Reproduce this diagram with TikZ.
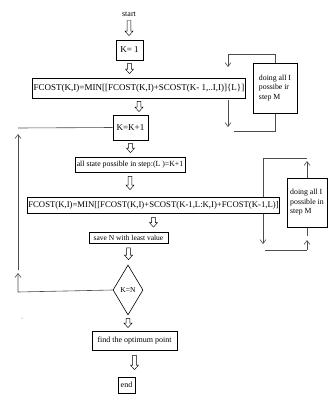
\documentclass[tikz,border=0pt]{standalone}
\usepackage{fontspec}
\setmainfont{Liberation Serif}
\usetikzlibrary{shapes.geometric,arrows.meta,calc,backgrounds}
\begin{document}
\begin{tikzpicture}[x=1pt,y=-1pt,
  box/.style={draw, fill=white, line width=0.7pt, inner sep=1pt, font=\fontsize{8.5}{9}\selectfont, anchor=center},
  sbox/.style={box, font=\fontsize{7.8}{9.5}\selectfont, align=left},
  hol/.style={line width=0.45pt, to path={let \p1=(\tikztostart), \p2=(\tikztotarget) in
     (\x1-1.8pt,\y1) -- (\x1+1.8pt,\y1) -- (\x1+1.8pt,\y2+4.5pt) -- (\x1+4pt,\y2+4.5pt) -- (\x1,\y2)
     -- (\x1-4pt,\y2+4.5pt) -- (\x1-1.8pt,\y2+4.5pt) -- cycle}},
  lp/.style={draw=black!70, line width=0.6pt},
  vt/.style={-{Straight Barb[length=4pt,width=6pt]}}
]
\useasboundingbox (0,0) rectangle (327,394);
\node[font=\fontsize{8}{9}\selectfont, inner sep=1pt] (st) at (129,14) {start};
\node[box, minimum width=27pt, minimum height=20pt, font=\fontsize{9}{10}\selectfont] (k1) at (129.5,50) {K= 1};
\node[box, minimum width=211pt, minimum height=20pt, font=\fontsize{9}{10}\selectfont] (f1) at (139,88) {FCOST(K,I)=MIN[[FCOST(K,I)+SCOST(K- 1,..I,I)]\{L\}]};
\node[box, minimum width=35pt, minimum height=25pt, font=\fontsize{9}{10}\selectfont] (kk) at (130.5,127.5) {K=K+1};
\node[box, minimum width=110pt, minimum height=15pt, font=\fontsize{7.8}{9}\selectfont] (al) at (130,164.5) {all state possible in step:(L )=K+1};
\node[box, minimum width=249pt, minimum height=16pt, font=\fontsize{8.7}{9.5}\selectfont] (f2) at (153.5,205) {FCOST(K,I)=MIN[[FCOST(K,I)+SCOST(K-1,L:K,I)+FCOST(K-1,L)]};
\node[box, minimum width=79pt, minimum height=11pt, font=\fontsize{7.5}{8}\selectfont] (sv) at (128.5,238) {save N with least value};
\node[draw, fill=white, line width=0.6pt, diamond, aspect=0.6, minimum width=30pt, minimum height=50pt, inner sep=0pt, font=\fontsize{7.5}{8}\selectfont] (dia) at (128,290) {K=N};
\node[box, minimum width=85pt, minimum height=19pt, font=\fontsize{8}{9}\selectfont] (fd) at (134.5,340.5) {find the optimum point};
\node[box, minimum width=17pt, minimum height=16pt, font=\fontsize{8}{9}\selectfont] (en) at (126.5,385) {end};
\node[sbox, minimum width=44pt, minimum height=50pt] (d1) at (275,88) {doing all I\\possibe ir\\step M};
\node[sbox, minimum width=40pt, minimum height=49pt] (d2) at (307,202.5) {doing all I\\possible in\\step M};

% main flow (hollow arrows)
\draw[hol] ($(st.south)+(0,3)$) to ($(k1.north)+(0,-4)$);
\draw[hol] ($(k1.south)+(0,3)$) to ($(f1.north)+(0,-4)$);
\draw[hol] ($(f1.south)+(0,3)$) to ($(kk.north)+(0,-3)$);
\draw[hol] ($(kk.south)+(0,3)$) to ($(al.north)+(0,-4)$);
\draw[hol] ($(al.south)+(0,4)$) to ($(f2.north)+(0,-7)$);
\draw[hol] ($(f2.south)+(0,4)$) to ($(sv.north)+(0,-5)$);
\draw[hol] ($(sv.south)+(0,4)$) to ($(dia.north)+(0,-5)$);
\draw[hol] ($(dia.south)+(0,3)$) to ($(fd.north)+(0,-3)$);
\draw[hol] ($(fd.south)+(0,5)$) to ($(en.north)+(0,-7)$);

\begin{scope}[on background layer]
% loop around first box
\coordinate (a1) at (275,54);
\coordinate (a2) at (228,54);
\coordinate (a3) at (228,67);
\draw[lp] (d1.north) -- (a1) -- (a2);
\draw[lp,vt] (a2) -- (a3);
\coordinate (b1) at (228,100);
\coordinate (b2) at (228,127);
\coordinate (b3) at (234,131);
\draw[lp,vt] (b1) -- (b2);
\draw[lp] (b3) -- (b3 -| d1.south) -- (d1.south);

% loop around second box
\coordinate (c1) at (263,158);
\coordinate (c2) at (307,158);
\coordinate (c3) at (263,244);
\coordinate (c4) at (265,250);
\coordinate (c5) at (307,250);
\coordinate (c6) at (307,240);
\coordinate (c7) at (307,236);
\draw[lp] (c1) -- (c2);
\draw[lp,vt] (d2.north) -- (307,161);
\draw[lp,vt] (c1) -- (c3);
\draw[lp] (c4) -- (c5);
\draw[lp,vt] (c5) -- (c6);
\draw[lp] (d2.south) -- (c7);

% outer loop back to K=K+1
\coordinate (e1) at (18,292);
\coordinate (e2) at (18,273);
\coordinate (e3) at (18,270);
\coordinate (e4) at (18,134);
\coordinate (e5) at (18,128);
\draw[lp,vt] (dia.west) -- (e1) -- (e2);
\draw[lp,vt] (e3) -- (e4);
\draw[lp] (e5) -- (kk.west);
\end{scope}

\fill[black!60] (22,318) circle (0.5pt);
\end{tikzpicture}
\end{document}
